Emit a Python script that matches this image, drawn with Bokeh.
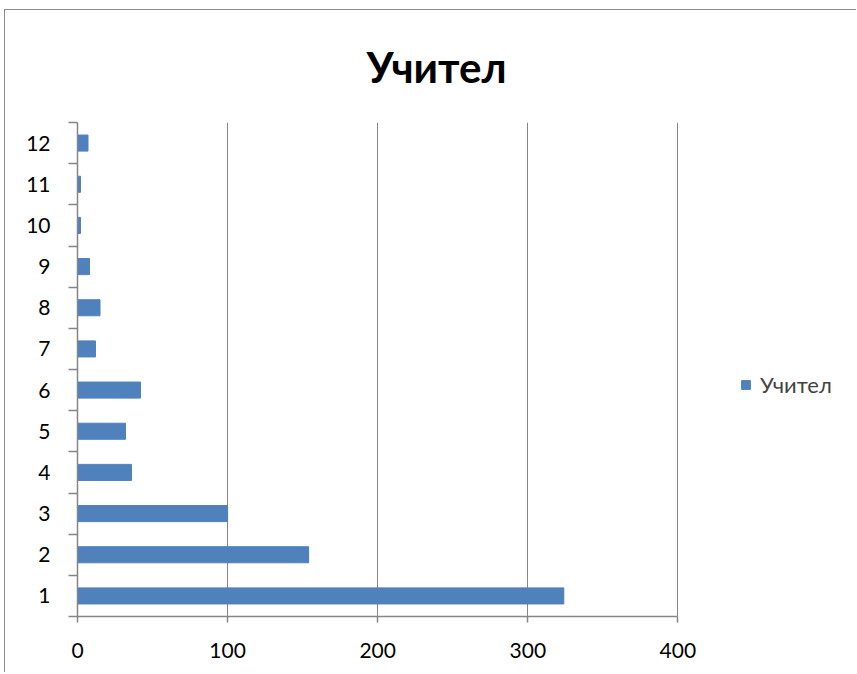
from bokeh.plotting import figure
from bokeh.models import FixedTicker, Legend, LegendItem, Range1d
from bokeh.embed import file_html
from bokeh.resources import INLINE

categories = [str(i) for i in range(1, 13)]
values = [324, 154, 100, 36, 32, 42, 12, 15, 8, 2, 2, 7]
series_name = "Учител"
x_ticks = [0, 100, 200, 300, 400]

FONT = "Lato"
GRAY = "#868686"

positions = list(range(1, len(categories) + 1))

p = figure(width=856, height=672, output_backend="svg", toolbar_location=None,
           x_range=Range1d(0, 519), y_range=Range1d(0.5, len(categories) + 0.5),
           min_border_left=77, min_border_right=0, min_border_top=122, min_border_bottom=56)
p.border_fill_color = None
p.background_fill_color = None

r = p.hbar(y=positions, right=values, left=0, height=0.39, color="#4F81BD")

p.title.text = series_name
p.title.text_font = FONT
p.title.text_font_size = "42px"
p.title.text_font_style = "bold"
p.title.text_color = "#000000"
p.title.align = "left"
p.title.offset = 289
p.title.standoff = 62

p.outline_line_color = None
p.ygrid.grid_line_color = None
p.xgrid.grid_line_color = GRAY
p.xgrid.grid_line_width = 1
p.xgrid.ticker = FixedTicker(ticks=x_ticks[1:])
p.xgrid.bounds = (0, 400)

xa = p.xaxis[0]
xa.ticker = FixedTicker(ticks=x_ticks)
xa.bounds = (0, 400)
xa.axis_line_color = GRAY
xa.axis_line_width = 1.5
xa.major_tick_line_color = GRAY
xa.major_tick_line_width = 1.5
xa.major_tick_out = 6
xa.major_tick_in = 0
xa.minor_tick_line_color = None
xa.major_label_text_font = FONT
xa.major_label_text_font_size = "21px"
xa.major_label_text_color = "#000000"
xa.major_label_standoff = 20

ya = p.yaxis[0]
ya.ticker = FixedTicker(ticks=positions, minor_ticks=[i + 0.5 for i in range(0, len(categories) + 1)])
ya.major_label_overrides = {pos: c for pos, c in zip(positions, categories)}
ya.axis_line_color = GRAY
ya.axis_line_width = 1.5
ya.major_tick_line_color = None
ya.major_tick_out = 0
ya.major_tick_in = 0
ya.minor_tick_line_color = GRAY
ya.minor_tick_line_width = 1.5
ya.minor_tick_out = 9
ya.minor_tick_in = 0
ya.major_label_text_font = FONT
ya.major_label_text_font_size = "21px"
ya.major_label_text_color = "#000000"
ya.major_label_standoff = 18

legend = Legend(items=[LegendItem(label=series_name, renderers=[r])],
                location=(663, 218), orientation="vertical",
                label_text_font=FONT, label_text_font_size="22px",
                glyph_width=11, glyph_height=11, padding=0, margin=0,
                label_standoff=9, border_line_color=None, background_fill_alpha=0)
p.add_layout(legend)

p.styles = {
    "background-image": "linear-gradient(#8c8c8c, #8c8c8c), linear-gradient(#8c8c8c, #8c8c8c)",
    "background-repeat": "no-repeat, no-repeat",
    "background-position": "4px 9px, 4px 9px",
    "background-size": "100% 1px, 1px 100%",
}

open("out.html", "w").write(file_html(p, INLINE))
